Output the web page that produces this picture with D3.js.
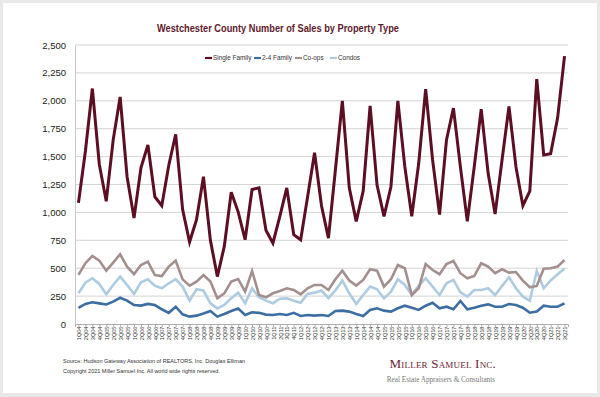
<!DOCTYPE html>
<html lang="en">
<head>
<meta charset="utf-8">
<script src="https://d3js.org/d3.v7.min.js"></script>
<style>
  body { margin: 0; background: #e9e9e9; }
  svg { display: block; }
</style>
</head>
<body>
<script>
// quarters 1Q04 .. 3Q21
var years = d3.range(4, 22);
var quarters = [];
years.forEach(function(y) {
    [1, 2, 3, 4].forEach(function(q) {
        if (y === 21 && q === 4) return;
        quarters.push(q + "Q" + (y < 10 ? "0" + y : y));
    });
});

var singleFamily = [1085, 1550, 2110, 1430, 1100, 1650, 2035, 1320, 950, 1400, 1605, 1140,
    1060, 1420, 1700, 1025, 735, 935, 1320, 750, 425, 695, 1180, 1005,
    755, 1205, 1220, 840, 725, 965, 1220, 800, 755, 1140, 1535, 1060,
    770, 1380, 2000, 1220, 920, 1190, 1955, 1245, 965, 1230, 2000, 1410,
    965, 1440, 2105, 1470, 980, 1650, 1935, 1410, 920, 1410, 1925, 1350,
    985, 1470, 1950, 1410, 1060, 1190, 2195, 1515, 1525, 1845, 2400];

var twoFourFamily = [145, 180, 195, 185, 175, 200, 235, 210, 170, 165, 180, 170,
    132, 100, 155, 87, 66, 75, 95, 117, 66, 90, 117, 138,
    81, 105, 100, 84, 81, 90, 81, 100, 72, 81, 75, 81,
    72, 117, 120, 111, 90, 72, 126, 141, 120, 111, 141, 164,
    146, 126, 164, 190, 141, 155, 132, 206, 132, 146, 164, 176,
    155, 155, 179, 170, 146, 101, 111, 164, 155, 155, 185];

var coops = [440, 545, 610, 568, 478, 550, 625, 514, 446, 529, 559, 439,
    430, 514, 568, 400, 343, 380, 439, 380, 230, 275, 380, 403,
    290, 475, 260, 239, 275, 296, 320, 305, 266, 320, 350, 350,
    305, 401, 478, 389, 344, 395, 490, 478, 335, 401, 529, 500,
    260, 320, 538, 484, 446, 538, 565, 455, 410, 430, 544, 514,
    455, 490, 460, 466, 389, 329, 341, 496, 500, 514, 574];

var condos = [275, 370, 410, 359, 266, 350, 425, 350, 269, 374, 401, 344,
    320, 365, 401, 335, 209, 311, 300, 185, 140, 170, 230, 281,
    185, 320, 239, 209, 185, 226, 230, 209, 191, 269, 281, 300,
    233, 300, 389, 275, 179, 260, 335, 311, 230, 290, 401, 350,
    262, 341, 410, 335, 260, 365, 395, 284, 245, 305, 305, 320,
    260, 341, 419, 320, 245, 209, 475, 320, 390, 445, 495];

var yTicks = [0, 250, 500, 750, 1000, 1250, 1500, 1750, 2000, 2250, 2500];

var series = [
    {name: "Single Family", values: singleFamily, color: "#5c0f22", width: 3},
    {name: "2-4 Family", values: twoFourFamily, color: "#3d6ea3", width: 2.6},
    {name: "Co-ops", values: coops, color: "#a38f8e", width: 2.6},
    {name: "Condos", values: condos, color: "#aecbe0", width: 2.6}
];

var width = 600, height = 397;
var margin = {top: 45, right: 32, bottom: 73, left: 75};

var svg = d3.select("body").append("svg")
    .attr("width", width)
    .attr("height", height);

// white card
svg.append("rect")
    .attr("x", 3).attr("y", 3)
    .attr("width", 594).attr("height", 390)
    .attr("fill", "#fff");

var x = d3.scalePoint()
    .domain(quarters)
    .range([margin.left, width - margin.right])
    .padding(0.5);

var y = d3.scaleLinear()
    .domain([0, 2500])
    .range([height - margin.bottom, margin.top]);

// gridlines
svg.append("g")
    .selectAll("line")
    .data(yTicks.slice(1))
    .enter().append("line")
    .attr("x1", margin.left).attr("x2", width - margin.right)
    .attr("y1", function(d) { return y(d); })
    .attr("y2", function(d) { return y(d); })
    .attr("stroke", "#d4d4d4")
    .attr("stroke-width", 1);

// y axis
var yAxis = svg.append("g")
    .attr("transform", "translate(" + margin.left + ",0)")
    .call(d3.axisLeft(y).tickValues(yTicks).tickFormat(d3.format(",")).tickSize(0).tickPadding(9));
yAxis.select(".domain").attr("stroke", "#c8c8c8");
yAxis.selectAll("text")
    .attr("font-family", "Liberation Sans, Arial, sans-serif")
    .attr("font-size", "9.5px")
    .attr("fill", "#222");

// x axis
var xAxis = svg.append("g")
    .attr("transform", "translate(0," + y(0) + ")")
    .call(d3.axisBottom(x).tickSize(3).tickPadding(2));
xAxis.select(".domain").attr("stroke", "#b0b0b0");
xAxis.selectAll(".tick line").attr("stroke", "#b0b0b0");
xAxis.selectAll("text")
    .attr("font-family", "Liberation Sans, Arial, sans-serif")
    .attr("font-size", "5.6px")
    .attr("fill", "#333")
    .attr("transform", "rotate(-90)")
    .attr("text-anchor", "end")
    .attr("dx", "-0.45em")
    .attr("dy", "-0.5em")
    .attr("x", 0)
    .attr("y", 5);

// lines
var line = d3.line()
    .x(function(d, i) { return x(quarters[i]); })
    .y(function(d) { return y(d); });

svg.append("g")
    .selectAll("path")
    .data(series.slice().reverse())
    .enter().append("path")
    .attr("d", function(s) { return line(s.values); })
    .attr("fill", "none")
    .attr("stroke", function(s) { return s.color; })
    .attr("stroke-width", function(s) { return s.width; })
    .attr("stroke-linejoin", "miter");

// title
svg.append("text")
    .attr("x", 278).attr("y", 32)
    .attr("text-anchor", "middle")
    .attr("font-family", "Liberation Sans, Arial, sans-serif")
    .attr("font-weight", "bold")
    .attr("font-size", "11.5px")
    .attr("fill", "#5e1a2d")
    .attr("textLength", 242)
    .attr("lengthAdjust", "spacingAndGlyphs")
    .text("Westchester County Number of Sales by Property Type");

// legend
var legendX = [205, 254, 295, 330];
var legend = svg.append("g")
    .selectAll("g")
    .data(series)
    .enter().append("g")
    .attr("transform", function(d, i) { return "translate(" + legendX[i] + ",58)"; });
legend.append("line")
    .attr("x1", 0).attr("x2", 7)
    .attr("stroke", function(d) { return d.color; })
    .attr("stroke-width", 2.2);
legend.append("text")
    .attr("x", 8).attr("y", 2.3)
    .attr("font-family", "Liberation Sans, Arial, sans-serif")
    .attr("font-size", "6.4px")
    .attr("fill", "#333")
    .text(function(d) { return d.name; });

// footer
var footer = svg.append("g")
    .attr("font-family", "Liberation Sans, Arial, sans-serif")
    .attr("font-size", "5.5px")
    .attr("fill", "#333");
footer.append("text").attr("x", 63).attr("y", 363)
    .text("Source: Hudson Gateway Association of REALTORS, Inc. Douglas Elliman");
footer.append("text").attr("x", 63).attr("y", 373)
    .text("Copyright 2021 Miller Samuel Inc.  All world wide rights reserved.");

svg.append("text")
    .attr("x", 496).attr("y", 368)
    .attr("text-anchor", "end")
    .attr("font-family", "Liberation Serif, Times New Roman, serif")
    .attr("font-size", "13px")
    .attr("fill", "#6b2233")
    .attr("font-variant", "small-caps")
    .attr("letter-spacing", "0.2px")
    .text("Miller Samuel Inc.");
svg.append("text")
    .attr("x", 495).attr("y", 382)
    .attr("text-anchor", "end")
    .attr("font-family", "Liberation Serif, Times New Roman, serif")
    .attr("font-size", "7.2px")
    .attr("fill", "#777")
    .text("Real Estate Appraisers & Consultants");
</script>
</body>
</html>
